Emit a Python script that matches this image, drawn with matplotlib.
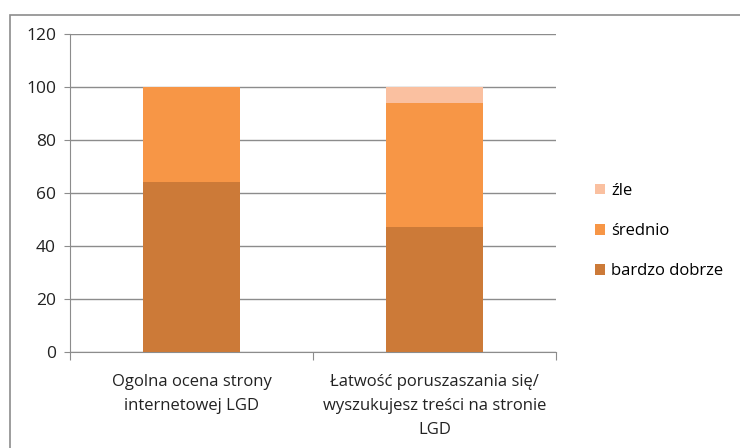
import matplotlib
matplotlib.use("Agg")
import matplotlib.pyplot as plt
from matplotlib.patches import Rectangle
import numpy as np

categories = ["Ogolna ocena strony\ninternetowej LGD",
              "Łatwość poruszaszania się/\nwyszukujesz treści na stronie\nLGD"]
bardzo_dobrze = [64, 47]
srednio = [36, 47]
zle = [0, 6]
series_names = ["bardzo dobrze", "średnio", "źle"]
colors = ["#CC7A38", "#F79646", "#FAC0A0"]
yticks = [0, 20, 40, 60, 80, 100, 120]

plt.rcParams['font.family'] = ['Open Sans', 'DejaVu Sans']

W, H = 740, 448
fig = plt.figure(figsize=(W/100, H/100), dpi=100)
# outer chart border
fig.patches.append(Rectangle((10/W, -0.1), 1.2, 1 - 15/H + 0.1, transform=fig.transFigure,
                             fill=False, edgecolor="#8C8C8C", linewidth=1.2))
ax = fig.add_axes([70/W, 1 - 352/H, (556-70)/W, (352-34)/H])

x = np.arange(len(categories))
width = 0.4
bottom = np.zeros(len(categories))
handles = []
for vals, name, c in zip([bardzo_dobrze, srednio, zle], series_names, colors):
    b = ax.bar(x, vals, width, bottom=bottom, color=c, label=name, zorder=3)
    handles.append(b)
    bottom += np.array(vals)

ax.set_xlim(-0.5, len(categories) - 0.5)
ax.set_ylim(0, 120)
ax.set_yticks(yticks)
ax.set_yticklabels([str(v) for v in yticks], fontsize=12.5, color="#222222")
ax.yaxis.grid(True, color="#8C8C8C", linewidth=1, zorder=0)
ax.set_axisbelow(True)
for s in ["top", "right"]:
    ax.spines[s].set_visible(False)
ax.spines["left"].set_color("#8C8C8C")
ax.spines["bottom"].set_color("#8C8C8C")
ax.tick_params(axis="y", length=4, color="#8C8C8C", pad=6)

# category boundaries ticks on x
ax.set_xticks([-0.5, 0.5, 1.5])
ax.set_xticklabels([])
ax.tick_params(axis="x", length=6, color="#8C8C8C")
ax.set_xticks(x, minor=True)
ax.set_xticklabels(categories, minor=True, fontsize=12, color="#222222", linespacing=1.65)
ax.tick_params(axis="x", which="minor", length=0, pad=16)

leg = ax.legend(handles[::-1], series_names[::-1], loc="center left",
                bbox_to_anchor=(1.05, 0.38), frameon=False, fontsize=12,
                handlelength=0.6, handleheight=0.6, handletextpad=0.35, labelspacing=1.45)

fig.savefig("out.png", dpi=100)
